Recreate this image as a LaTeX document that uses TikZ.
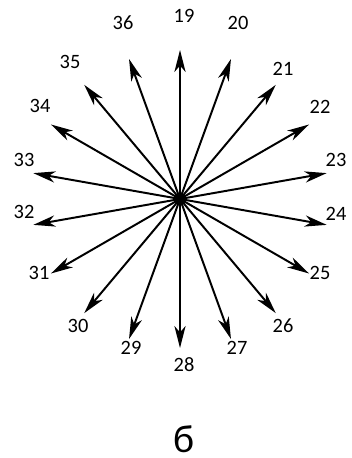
\documentclass[tikz,border=0pt]{standalone}
\usepackage{fontspec}
\setmainfont{Carlito}
\usetikzlibrary{arrows.meta}
\begin{document}
\begin{tikzpicture}[x=0.025cm,y=0.025cm,
ray/.style={-{Stealth[length=5.5mm,width=2.8mm,inset=1.6mm]},line width=1.4pt},
num/.style={font=\fontsize{14.5}{16}\selectfont,inner sep=0pt},
hub/.style={circle,fill=black,inner sep=0pt,minimum size=3mm}]
\useasboundingbox (-180,-259) rectangle (172,199);
\node[hub] (c) at (0,0) {};
% rays and their numbers
\foreach \n/\dx/\dy in {19/4/183,20/58/176,21/103/130,22/140/92,23/156/39,24/156/-15,
  25/140/-74,26/103/-127,27/57/-149,28/4/-166,29/-49/-149,30/-102/-127,31/-141/-74,
  32/-156/-13,33/-156/39,34/-140/93,35/-110/137,36/-57/176}{
  \pgfmathsetmacro\ang{90-20*(\n-19)}
  \coordinate (t\n) at (\ang:149);
  \draw[ray] (c.center) -- (t\n);
  \node[num] (l\n) at (\dx,\dy) {\n};
}
\node[font=\fontsize{28}{30}\selectfont,inner sep=0pt] (cap) at (4,-240) {б};
\end{tikzpicture}
\end{document}
